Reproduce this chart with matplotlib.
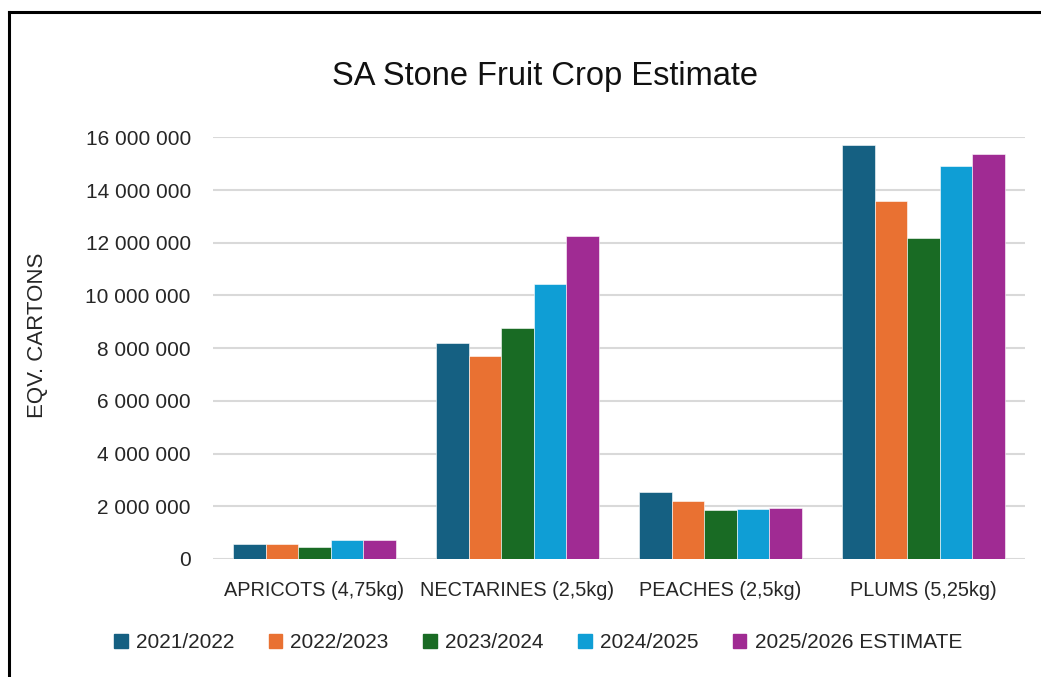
import numpy as np
import matplotlib
matplotlib.use('Agg')
import matplotlib.pyplot as plt
from matplotlib.lines import Line2D
from matplotlib.ticker import FuncFormatter

plt.rcParams['font.family'] = ['Liberation Sans', 'DejaVu Sans']

categories = ['APRICOTS (4,75kg)', 'NECTARINES (2,5kg)', 'PEACHES (2,5kg)', 'PLUMS (5,25kg)']
seasons = ['2021/2022', '2022/2023', '2023/2024', '2024/2025', '2025/2026 ESTIMATE']

v_2021 = [560000, 8180000, 2530000, 15700000]
v_2022 = [560000, 7700000, 2190000, 13600000]
v_2023 = [470000, 8780000, 1850000, 12190000]
v_2024 = [710000, 10440000, 1900000, 14920000]
v_2025 = [710000, 12250000, 1930000, 15350000]
series = [v_2021, v_2022, v_2023, v_2024, v_2025]

colors = ['#156082', '#E97132', '#196B24', '#0F9ED5', '#A02B93']

W, H = 1041, 677
fig = plt.figure(figsize=(W / 100, H / 100), dpi=100)
ax = fig.add_axes([213 / W, 1 - 559 / H, (1025 - 213) / W, (559 - 137.3) / H])

x = np.arange(len(categories))
bw = 0.16
for i, (vals, c, lab) in enumerate(zip(series, colors, seasons)):
    ax.bar(x + (i - 2) * bw, vals, width=bw, color=c, label=lab,
           edgecolor='white', linewidth=0.4, zorder=3)

ax.set_xlim(-0.5, len(categories) - 0.5)
ax.set_ylim(0, 16000000)
ax.set_yticks(np.arange(0, 16000001, 2000000))
ax.yaxis.set_major_formatter(FuncFormatter(lambda v, p: f'{int(v):,}'.replace(',', ' ')))
ax.set_xticks(x)
ax.set_xticklabels(categories)
ax.grid(axis='y', color='#D9D9D9', linewidth=1.5, zorder=0)
for s in ax.spines.values():
    s.set_visible(False)
ax.tick_params(axis='both', length=0, colors='#262626')
ax.tick_params(axis='y', pad=16, labelsize=15)
ax.tick_params(axis='x', pad=16, labelsize=14.3)

ax.set_ylabel('EQV. CARTONS', fontsize=16, color='#262626')
ax.yaxis.set_label_coords(-0.203, 0.531)

fig.text(545 / W, 1 - 77 / H, 'SA Stone Fruit Crop Estimate', fontsize=23.5,
         ha='center', va='center', color='#111111')

handles = [plt.Rectangle((0, 0), 1, 1, color=c) for c in colors]
fig.legend(handles, seasons, loc='center', bbox_to_anchor=(538 / W, 1 - 643 / H),
           ncol=5, frameon=False, fontsize=15, handlelength=0.65, handleheight=0.65,
           handletextpad=0.4, columnspacing=1.65, labelcolor='#262626')

# chart border (left and top edges visible)
fig.add_artist(Line2D([9 / W, 9 / W], [0, 1 - 12 / H], color='black', linewidth=2.2,
                      transform=fig.transFigure))
fig.add_artist(Line2D([9 / W, 1], [1 - 12 / H, 1 - 12 / H], color='black', linewidth=2.2,
                      transform=fig.transFigure))

fig.savefig('out.png', dpi=100)
